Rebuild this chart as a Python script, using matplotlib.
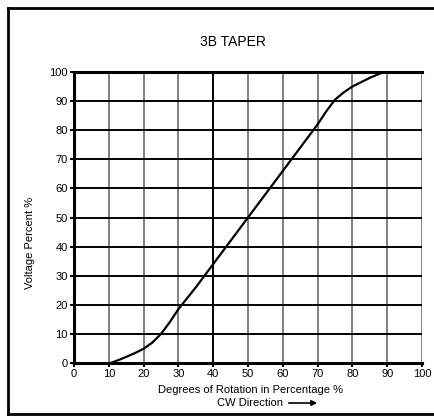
import matplotlib
matplotlib.use("Agg")
import matplotlib.pyplot as plt
from matplotlib.lines import Line2D

plt.rcParams['font.family'] = ['Liberation Sans', 'DejaVu Sans']

# curve
rotation = [10.5, 13, 15, 17.5, 20, 22.5, 25, 27.5, 30, 35, 40, 50, 60, 70, 72.5, 75, 77.5, 80, 85, 89]
voltage = [0, 1.1, 2.1, 3.4, 4.9, 7, 10, 14, 18.5, 26, 34, 50, 66, 82, 86.5, 90.5, 93, 95, 98, 100]

x_ticks = list(range(0, 101, 10))
y_ticks = list(range(0, 101, 10))

fig = plt.figure(figsize=(4.35, 4.16), dpi=100)
ax = fig.add_axes([74/435, 1-363/416, 348/435, 291/416])

# grid: grey verticals, black horizontals, black line at 40
for xv in x_ticks[1:]:
    col = 'black' if xv == 40 else '#808080'
    ax.axvline(xv, color=col, lw=1.4, zorder=1)
for yv in y_ticks[1:]:
    ax.axhline(yv, color='black', lw=1.4, zorder=1)

ax.plot(rotation, voltage, color='black', lw=1.6, zorder=3)

ax.set_xlim(0, 100)
ax.set_ylim(0, 100)
ax.set_xticks(x_ticks)
ax.set_yticks(y_ticks)
ax.tick_params(axis='both', direction='out', length=3, width=1.5, labelsize=8, pad=1.5, colors='black')
for s in ['left', 'bottom', 'top']:
    ax.spines[s].set_linewidth(2.2)
ax.spines['right'].set_visible(False)

fig.text(233/435, 1-42/416, '3B TAPER', ha='center', va='center', fontsize=10)
fig.text(251/435, 1-390/416, 'Degrees of Rotation in Percentage %', ha='center', va='center', fontsize=8)
fig.text(283/435, 1-403/416, 'CW Direction', ha='right', va='center', fontsize=8)
ax.annotate('', xy=(320/435, 1-403/416), xytext=(286/435, 1-403/416),
            xycoords='figure fraction',
            arrowprops=dict(arrowstyle='-|>', color='black', lw=1.2, mutation_scale=8))
fig.text(30/435, 1-243/416, 'Voltage Percent %', ha='center', va='center', rotation=90, fontsize=8)

# outer frame (right side cut off in reference)
frame_kw = dict(color='black', lw=2, transform=fig.transFigure)
fig.add_artist(Line2D([8/435, 8/435], [1-414/416, 1-8/416], **frame_kw))
fig.add_artist(Line2D([8/435, 1], [1-8/416, 1-8/416], **frame_kw))
fig.add_artist(Line2D([8/435, 1], [1-414/416, 1-414/416], **frame_kw))

fig.savefig('out.png', dpi=100)
